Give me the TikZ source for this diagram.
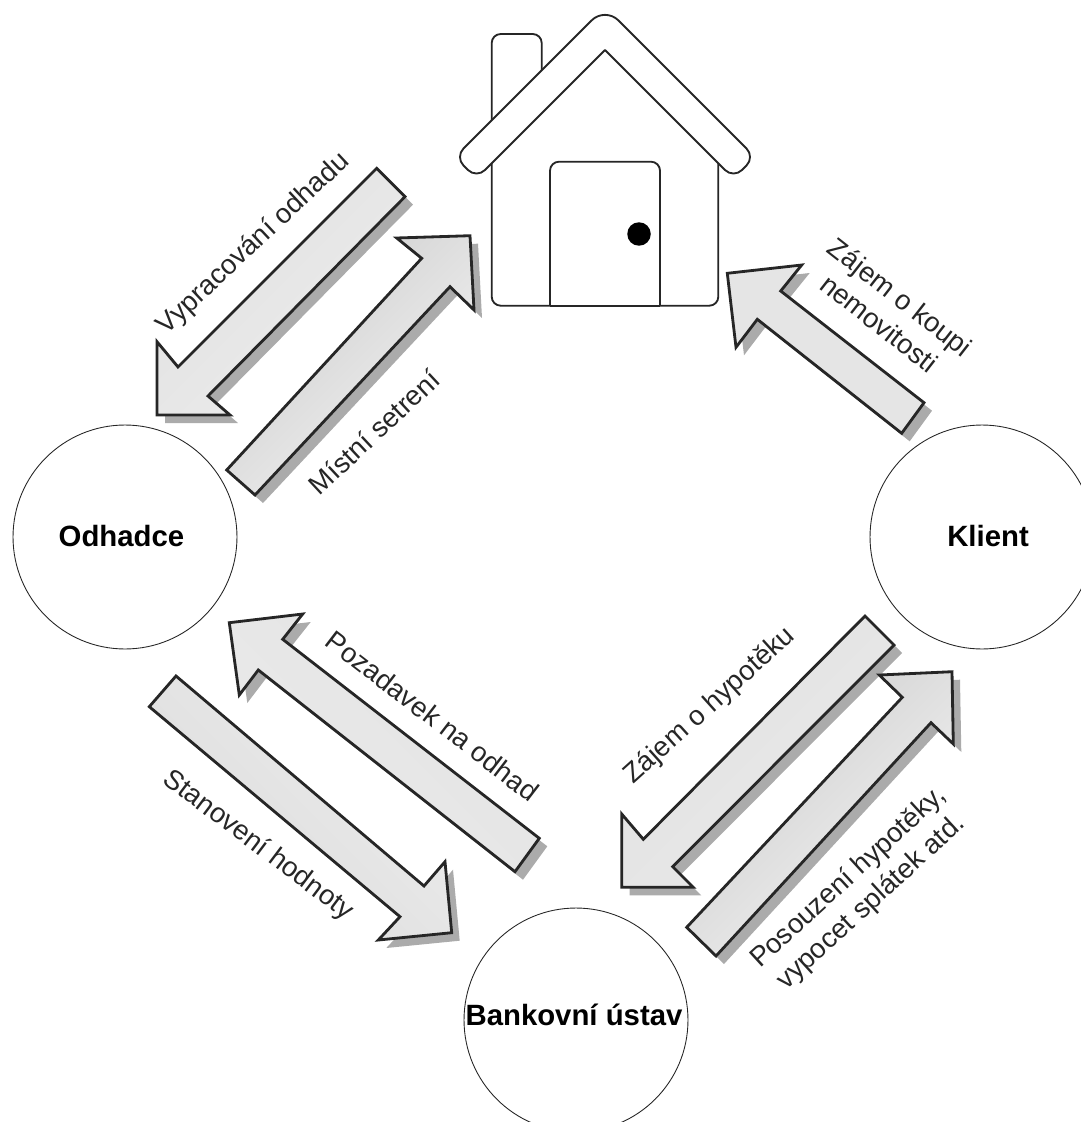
\documentclass[tikz,border=0pt]{standalone}
\usepackage{fontspec}
\setmainfont{Liberation Sans}
\definecolor{ink}{HTML}{262626}
\definecolor{shadowgray}{HTML}{ABABAB}
\tikzset{
  x=0.02cm,y=-0.02cm,
  circ/.style={circle,draw=ink,line width=0.5pt,minimum size=4.48cm,inner sep=0pt},
  boldlabel/.style={font=\fontsize{16.7}{20}\selectfont\bfseries,text=black,inner sep=0pt},
  arrowlabel/.style={font=\fontsize{15.7}{19}\selectfont,text=ink,inner sep=0pt,align=center},
  housepart/.style={draw=ink,line width=1.05pt,fill=white,rounded corners=0.18cm},
}
\newcommand{\blockarrow}[4]{%
  \fill[shadowgray,shift={(8,8)}] #1 -- cycle;
  \shade[shading=axis,left color=#3,right color=#4,shading angle=#2,draw=ink,line width=1.6pt,line join=miter] #1 -- cycle;
}
\begin{document}
\begin{tikzpicture}
\useasboundingbox (0,0) rectangle (1081,1122);
\clip (0,0) rectangle (1081,1122);
% circles
\node[circ] (odhadce) at (125,537) {};
\node[circ] (klient) at (982,537) {};
\node[circ] (banka) at (576,1020) {};
\node[boldlabel] (odhadcet) at (121.5,536) {Odhadce};
\node[boldlabel] (klientt) at (988,536) {Klient};
\node[boldlabel] (bankat) at (574,1015) {Bankovní ústav};
% house
\draw[housepart] (491.7,60) -- (491.7,34) -- (541.7,34) -- (541.7,110) -- (491.7,150) -- cycle;
\draw[housepart] (491.7,140) -- (605,40) -- (718.3,140) -- (718.3,305.7) -- (491.7,305.7) -- cycle;
\draw[housepart] (550,305.7) -- (550,161.7) -- (660,161.7) -- (660,305.7);
\draw[draw=ink,line width=1.05pt] (550,305.7) -- (660,305.7);
\fill[black] (639,234) circle (0.235cm);
\draw[draw=ink,line width=1.05pt,fill=white,line join=round]
  [sharp corners] (605,50)
  [rounded corners=0.24cm] -- (476.5,178.5) -- (455,157)
  [rounded corners=0.38cm] -- (605,7)
  [rounded corners=0.24cm] -- (755,157) -- (733.5,178.5)
  [sharp corners] -- cycle;
% arrows
\blockarrow{(376.7,168.3) -- (405,196.7) -- (208,396) -- (230,415) -- (157,415) -- (157,341.7) -- (178,367)}{45}{gray!24!white}{gray!14!white}
\blockarrow{(226.7,470) -- (255,495) -- (450,286.7) -- (474,310) -- (470,235.7) -- (396.7,238) -- (421.7,258.3)}{45}{gray!40!white}{gray!8!white}
\blockarrow{(727.3,273.3) -- (801.7,265) -- (780.7,291) -- (924,402.7) -- (901.7,433.3) -- (757.3,319.3) -- (736,347.3)}{-45}{gray!20!white}{gray!20!white}
\blockarrow{(865,616) -- (894,645) -- (672.7,866.7) -- (693.3,887.3) -- (621.7,887.3) -- (621.7,814) -- (643.3,839.3)}{45}{gray!22!white}{gray!18!white}
\blockarrow{(686.7,927.3) -- (716,956) -- (931,722.7) -- (953.3,744) -- (952,671.7) -- (879.3,675) -- (902.3,697.3)}{45}{gray!40!white}{gray!8!white}
\blockarrow{(229.3,622.7) -- (302.7,614) -- (282.7,639.3) -- (539.3,838.3) -- (515,871.7) -- (258.3,670) -- (239.3,695)}{-45}{gray!22!white}{gray!16!white}
\blockarrow{(176,676) -- (149.3,706.7) -- (400,916.7) -- (378.3,940) -- (451.7,932.7) -- (445,861.7) -- (424,886)}{-45}{gray!14!white}{gray!28!white}
% labels
\node[arrowlabel,rotate=43] (l1) at (253.5,244) {Vypracování odhadu};
\node[arrowlabel,rotate=43] (l2) at (374,432) {Místní setrení};
\node[arrowlabel,rotate=-38] (l3) at (890,310) {Zájem o koupi\\nemovitosti};
\node[arrowlabel,rotate=42] (l4) at (710,706) {Zájem o hypotěku};
\node[arrowlabel,rotate=42.5] (l5) at (860,890) {Posouzení hypotěky,\\vypocet splátek atd.};
\node[arrowlabel,rotate=-37.5] (l6) at (432.5,716) {Pozadavek na odhad};
\node[arrowlabel,rotate=-37] (l7) at (258,845.5) {Stanovení hodnoty};
\end{tikzpicture}
\end{document}
